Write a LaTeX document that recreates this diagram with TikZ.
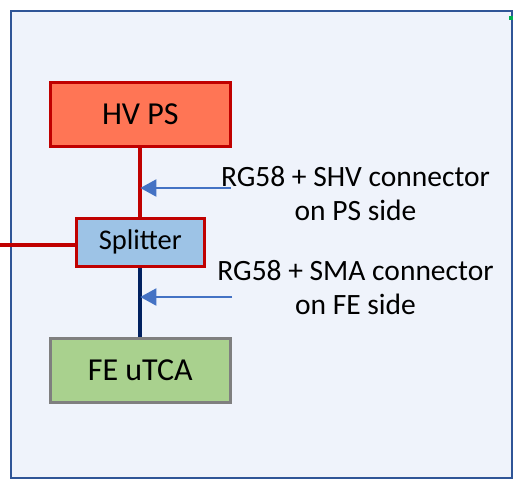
\documentclass[tikz,border=0pt]{standalone}
\usepackage{fontspec}
\setmainfont{Carlito}
\usepackage{xcolor}
\usepackage{tikz}
\usetikzlibrary{positioning,arrows.meta,calc}
\definecolor{frameclr}{RGB}{47,85,151}
\definecolor{backclr}{RGB}{239,243,251}
\definecolor{hvclr}{RGB}{255,117,85}
\definecolor{cableclr}{RGB}{192,0,0}
\definecolor{splitclr}{RGB}{157,195,230}
\definecolor{feclr}{RGB}{169,209,142}
\definecolor{feline}{RGB}{127,127,127}
\definecolor{navyclr}{RGB}{0,32,96}
\definecolor{ptrclr}{RGB}{68,114,196}
\definecolor{markclr}{RGB}{0,176,80}
\tikzset{
    box/.style={rectangle,draw,line width=3pt,inner sep=0pt,font=\fontsize{32}{38}\selectfont},
    hvbox/.style={box,draw=cableclr,fill=hvclr,minimum width=180pt,minimum height=64pt},
    splitbox/.style={box,draw=cableclr,fill=splitclr,minimum width=128pt,minimum height=48pt,font=\fontsize{28.5}{34}\selectfont},
    febox/.style={box,draw=feline,fill=feclr,minimum width=180pt,minimum height=64pt},
    cable/.style={line width=4pt,draw=cableclr},
    coax/.style={line width=4pt,draw=navyclr},
    pointer/.style={-{Triangle[length=16pt,width=17pt]},line width=2pt,draw=ptrclr},
    note/.style={align=center,inner sep=0pt,font=\fontsize{29.5}{34}\selectfont},
}
\begin{document}
\begin{tikzpicture}[x=1pt,y=-1pt]
\useasboundingbox (0,0) rectangle (513,483);
\draw[frameclr,fill=backclr,line width=2pt] (11,11) rectangle (512,478);
\fill[markclr] (509,16) rectangle (513,20);

\node[hvbox]    (hv)    at (140.3,114.3) {HV PS};
\node[splitbox] (split) at (140.3,242.2) {Splitter};
\node[febox]    (fe)    at (140.3,370)   {FE uTCA};

\coordinate (feed) at (0,245);
\draw[cable] (hv.south) -- (split.north);
\draw[cable] (feed) -- (feed -| split.west);
\draw[coax] (split.south) -- (fe.north);

\node[note] (shv) at (355.5,193.5) {RG58 + SHV connector\\on PS side};
\node[note] (sma) at (355.5,288) {RG58 + SMA connector\\on FE side};

\coordinate (p1) at (231,188);
\coordinate (p2) at (232,297);
\draw[pointer] (p1) -- (p1 -| hv.south);
\draw[pointer] (p2) -- (p2 -| fe.north);
\end{tikzpicture}
\end{document}
